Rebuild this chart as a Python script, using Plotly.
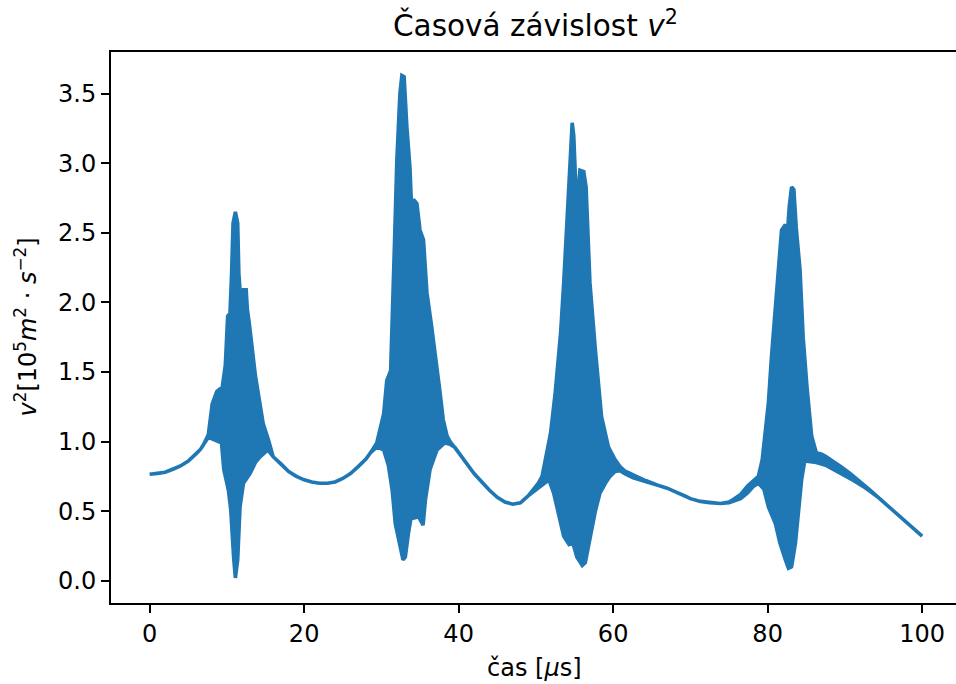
import plotly.graph_objects as go

# Envelope of the rapidly oscillating v^2(t) signal (upper and lower bounds)
t_upper = [0, 1, 2, 3, 4, 5, 6, 6.6, 7.0, 7.6, 8.1, 8.7, 9.4, 9.8, 10.1, 10.4, 10.6, 10.8,
           11.1, 11.4, 11.55, 11.85, 12.15, 12.5, 12.65, 12.9, 13.7, 14.7, 15.4, 16.0, 16.5,
           17.0, 18.0, 19.0, 20.0, 21.0, 22.0, 23.0, 24.0, 25.0, 26.0, 27.0, 28.0, 28.6, 29.4,
           30.3, 30.7, 31.2, 31.4, 31.7, 32.0, 32.4, 32.65, 32.95, 33.3, 33.7, 33.95, 34.15,
           34.6, 35.0, 35.45, 35.9, 36.5, 37.2, 37.6, 38.0, 38.5, 38.9, 39.5, 40.0, 41.0, 42.0,
           43.0, 44.0, 45.0, 46.0, 47.0, 48.0, 49.0, 49.7, 50.3, 50.8, 51.4, 51.9, 52.5, 53.2,
           53.6, 54.0, 54.4, 54.7, 54.9, 55.3, 55.7, 56.2, 56.5, 57.0, 57.7, 58.5, 59.4, 60.25,
           60.9, 61.5, 62.6, 64.2, 66.1, 67.0, 68.0, 69.3, 70.0, 71.3, 72.5, 73.9, 75.0, 75.6,
           76.5, 77.4, 78.2, 78.8, 79.3, 79.7, 80.1, 80.5, 81.0, 81.4, 81.8, 82.3, 82.5, 82.8,
           83.1, 83.4, 83.7, 84.2, 84.6, 85.1, 85.7, 86.3, 87.0, 87.6, 88.5, 89.5, 90.6, 91.5,
           92.3, 93.3, 94.5, 95.5, 96.5, 97.5, 98.5, 99.3, 100.0]
v_upper = [0.765, 0.77, 0.78, 0.80, 0.825, 0.86, 0.91, 0.945, 0.98, 1.05, 1.27, 1.36, 1.39,
           1.55, 1.90, 1.92, 2.19, 2.57, 2.65, 2.57, 2.21, 1.97, 2.09, 2.09, 1.95, 1.85, 1.47,
           1.13, 1.01, 0.89, 0.865, 0.84, 0.785, 0.75, 0.725, 0.71, 0.70, 0.70, 0.71, 0.735,
           0.77, 0.82, 0.875, 0.92, 0.99, 1.20, 1.44, 1.51, 1.83, 2.43, 3.02, 3.50, 3.63, 3.62,
           3.26, 2.97, 2.62, 2.74, 2.71, 2.52, 2.45, 2.07, 1.83, 1.54, 1.35, 1.16, 1.04, 1.00,
           0.96, 0.92, 0.845, 0.77, 0.71, 0.65, 0.60, 0.565, 0.55, 0.56, 0.61, 0.655, 0.70,
           0.75, 0.92, 1.06, 1.35, 1.78, 2.14, 2.54, 2.90, 3.29, 3.20, 2.66, 2.95, 2.94, 2.83,
           2.14, 1.66, 1.18, 0.96, 0.87, 0.82, 0.79, 0.76, 0.72, 0.68, 0.665, 0.64, 0.61, 0.59,
           0.57, 0.56, 0.555, 0.565, 0.585, 0.62, 0.68, 0.72, 0.75, 0.87, 1.08, 1.28, 1.61,
           1.99, 2.28, 2.52, 2.56, 2.45, 2.69, 2.83, 2.81, 2.54, 2.23, 1.75, 1.39, 1.04, 0.92,
           0.91, 0.89, 0.86, 0.82, 0.775, 0.735, 0.70, 0.65, 0.59, 0.54, 0.49, 0.44, 0.39,
           0.35, 0.32]

t_lower = [0, 1, 2, 3, 4, 5, 6, 6.6, 7.0, 7.6, 8.3, 8.9, 9.3, 9.6, 10.2, 10.5, 10.87, 11.1,
           11.4, 11.7, 12.15, 13.0, 13.7, 14.3, 14.9, 15.3, 16.0, 16.5, 17.0, 18.0, 19.0, 20.0,
           21.0, 22.0, 23.0, 24.0, 25.0, 26.0, 27.0, 28.0, 28.6, 29.4, 30.3, 30.9, 31.4, 31.8,
           32.4, 32.8, 33.1, 33.5, 33.95, 34.2, 34.8, 35.4, 35.7, 36.3, 37.2, 37.6, 38.2, 38.9,
           39.5, 40.0, 41.0, 42.0, 43.0, 44.0, 45.0, 46.0, 47.0, 48.0, 49.0, 49.7, 50.6, 51.7,
           52.3, 53.0, 53.6, 54.3, 54.8, 55.3, 56.0, 56.4, 57.0, 57.7, 58.3, 59.0, 59.6, 60.25,
           60.9, 61.5, 62.6, 64.2, 66.1, 67.0, 68.0, 69.3, 70.0, 71.3, 72.5, 73.9, 75.0, 75.6,
           76.5, 77.4, 78.2, 78.8, 79.5, 80.1, 81.0, 81.6, 82.3, 82.7, 83.1, 83.6, 84.0, 84.4,
           84.8, 86.3, 87.5, 88.5, 89.8, 91.1, 92.3, 93.3, 94.5, 95.5, 96.5, 97.5, 98.5, 99.3,
           100.0]
v_lower = [0.765, 0.77, 0.78, 0.80, 0.825, 0.86, 0.91, 0.945, 0.98, 1.03, 1.01, 1.00, 0.99,
           0.80, 0.65, 0.51, 0.17, 0.02, 0.15, 0.53, 0.70, 0.77, 0.85, 0.89, 0.92, 0.94, 0.89,
           0.865, 0.84, 0.785, 0.75, 0.725, 0.71, 0.70, 0.70, 0.71, 0.735, 0.77, 0.82, 0.875,
           0.92, 0.96, 0.94, 0.83, 0.65, 0.41, 0.25, 0.15, 0.17, 0.34, 0.49, 0.45, 0.46, 0.40,
           0.58, 0.80, 0.94, 0.96, 0.99, 0.98, 0.96, 0.92, 0.845, 0.77, 0.71, 0.65, 0.60, 0.565,
           0.55, 0.56, 0.61, 0.64, 0.68, 0.725, 0.63, 0.46, 0.32, 0.26, 0.27, 0.17, 0.11, 0.13,
           0.29, 0.50, 0.63, 0.70, 0.75, 0.785, 0.79, 0.77, 0.74, 0.71, 0.68, 0.665, 0.64, 0.61,
           0.59, 0.57, 0.56, 0.555, 0.56, 0.575, 0.59, 0.63, 0.68, 0.70, 0.66, 0.53, 0.41, 0.27,
           0.15, 0.09, 0.10, 0.27, 0.49, 0.725, 0.86, 0.85, 0.83, 0.80, 0.76, 0.72, 0.68, 0.64,
           0.59, 0.54, 0.49, 0.44, 0.39, 0.35, 0.32]

x_ticks = [0, 20, 40, 60, 80, 100]
y_ticks = [0.0, 0.5, 1.0, 1.5, 2.0, 2.5, 3.0, 3.5]

BLUE = "#1f77b4"
FONT = "DejaVu Sans"
FS = 24          # tick / axis-label font size (px)
FS_TITLE = 29.5  # title font size (px)
LW = 1.9         # spine / tick width

# Closed band: upper envelope forward, lower envelope backward
band_x = t_upper + t_lower[::-1]
band_y = v_upper + v_lower[::-1]

fig = go.Figure()
fig.add_trace(go.Scatter(
    x=band_x, y=band_y, mode="lines", fill="toself", fillcolor=BLUE,
    line=dict(color=BLUE, width=3.6),
    hoverinfo="skip", showlegend=False,
))

W, H = 956, 684
L, R, T, B = 111, 0, 52, 81
plot_w = W - L - R
px_per_unit = 7.725
x0 = -5.0

axis_common = dict(
    ticks="outside", ticklen=8, tickwidth=LW, tickcolor="black",
    showline=True, linecolor="black", linewidth=LW,
    showgrid=False, zeroline=False,
    tickfont=dict(family=FONT, size=FS, color="black"),
)

fig.update_layout(
    width=W, height=H,
    margin=dict(l=L, r=R, t=T, b=B, pad=0),
    paper_bgcolor="white", plot_bgcolor="white",
    font=dict(family=FONT, size=FS, color="black"),
    showlegend=False,
    xaxis=dict(
        range=[x0, x0 + plot_w / px_per_unit],
        tickvals=x_ticks, ticktext=[str(v) for v in x_ticks],
        mirror=True, **axis_common,
    ),
    yaxis=dict(
        range=[-0.160, 3.799],
        tickvals=y_ticks, ticktext=[f"{v:.1f}" for v in y_ticks],
        mirror=False, **axis_common,
    ),
    annotations=[
        dict(text="Časová závislost <i>v</i><sup>2</sup>",
             xref="paper", yref="paper", x=(535.7 - L) / plot_w, y=1,
             xanchor="center", yanchor="bottom", yshift=7, showarrow=False,
             font=dict(family=FONT, size=FS_TITLE, color="black")),
        dict(text="čas [<i>μ</i>s]",
             xref="paper", yref="paper", x=(534 - L) / plot_w, y=0,
             xanchor="center", yanchor="top", yshift=-49, showarrow=False,
             font=dict(family=FONT, size=FS, color="black")),
        dict(text="<i>v</i><sup>2</sup>[10<sup>5</sup><i>m</i><sup>2</sup> · <i>s</i><sup>−2</sup>]",
             xref="paper", yref="paper", x=(25 - L) / plot_w, y=0.5,
             xanchor="center", yanchor="middle", textangle=-90, showarrow=False,
             font=dict(family=FONT, size=FS, color="black")),
    ],
)

fig.write_html("out.html")
